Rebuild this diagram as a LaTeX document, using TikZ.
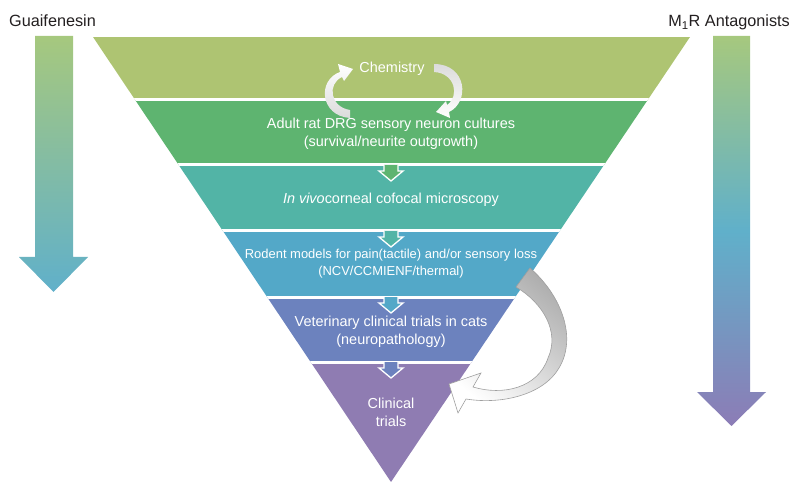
\documentclass[tikz,border=0pt]{standalone}
\usepackage{fontspec}
\setmainfont{Liberation Sans}
\definecolor{bandA}{HTML}{AEC472}
\definecolor{bandB}{HTML}{5EB470}
\definecolor{bandC}{HTML}{52B4A6}
\definecolor{bandD}{HTML}{53A8C8}
\definecolor{bandE}{HTML}{6C82BE}
\definecolor{bandF}{HTML}{8F7CB2}
\definecolor{arrowTop}{HTML}{A6C87E}
\definecolor{arrowMid}{HTML}{60B0CA}
\definecolor{arrowEnd}{HTML}{8C7CB6}
\definecolor{labelInk}{HTML}{231F20}
% small white-edged arrow linking two bands (fill colour, boundary y, name)
\newcommand{\bandlink}[3]{%
  \filldraw[fill=#1, draw=white, line width=1.3bp, line join=miter]
    (384,#2) -- (384,#2+6) -- (379,#2+6) -- (391,#2+16) -- (403,#2+6)
    -- (398,#2+6) -- (398,#2) node[coordinate] (#3) {};}
\begin{document}
\begin{tikzpicture}[x=1bp, y=-1bp,
  bandtext/.style={text=white, align=center, inner sep=0pt,
    font=\fontsize{14.5}{18}\selectfont},
  smalltext/.style={text=white, align=center, inner sep=0pt,
    font=\fontsize{13}{17}\selectfont},
  sidelabel/.style={text=labelInk, inner sep=0pt,
    font=\fontsize{16.3}{19}\selectfont},
  bigcurve/.style={draw=gray!75, line width=0.6bp, shading=axis,
    top color=gray!65, bottom color=white, shading angle=-40}]
\useasboundingbox (0,0) rectangle (792,482);

% side arrows
\shade[top color=arrowTop, bottom color=arrowMid]
  (35,36) -- (73,36) -- (73,257) -- (88,257) -- (53.5,292) -- (19,257)
  -- (35,257) -- cycle;
\shade[top color=arrowTop, bottom color=arrowEnd, middle color=arrowMid]
  (713,36) -- (750,36) -- (750,392) -- (766,392) -- (731.5,426)
  -- (697,392) -- (713,392) -- cycle;
\node[sidelabel, anchor=base west] (guai) at (9,27) {Guaifenesin};
\node[sidelabel, anchor=base east] (m1r) at (790,27)
  {M\textsubscript{1}R Antagonists};

% funnel bands
\begin{scope}
  \clip (93,37) -- (690,37) -- (391,482) -- cycle;
  \fill[bandA] (0,37) rectangle (792,100);
  \fill[bandB] (0,100) rectangle (792,165);
  \fill[bandC] (0,165) rectangle (792,231);
  \fill[bandD] (0,231) rectangle (792,297);
  \fill[bandE] (0,297) rectangle (792,362);
  \fill[bandF] (0,362) rectangle (792,482);
  \foreach \yy in {100,165,231,297,362}
    \draw[white, line width=3bp] (0,\yy) -- (792,\yy);
\end{scope}

% links between bands
\bandlink{bandB}{165}{l1}
\bandlink{bandC}{231}{l2}
\bandlink{bandD}{297}{l3}
\bandlink{bandE}{362}{l4}

% band texts
\node[bandtext] (chem) at (392,69) {Chemistry};
\node[bandtext] (drg) at (391,134)
  {Adult rat DRG sensory neuron cultures\\(survival/neurite outgrowth)};
\node[bandtext] (ccm) at (391,200) {\textit{In vivo}corneal cofocal microscopy};
\node[smalltext] (rodent) at (391,263.5)
  {Rodent models for pain(tactile) and/or sensory loss\\(NCV/CCMIENF/thermal)};
\node[bandtext] (vet) at (391,331.5)
  {Veterinary clinical trials in cats\\(neuropathology)};
\node[bandtext] (clin) at (391,412.5) {Clinical\\trials};

% chemistry cycle arrows
\shade[top color=white, bottom color=gray!28]
  (350,118) .. controls (320,116) and (317,80) .. (340,72) -- (338,64)
  -- (353,69) -- (344,81) -- (342,77)
  .. controls (327,84) and (330,107) .. (350,110) -- cycle;
\shade[top color=gray!28, bottom color=white]
  (434,64) .. controls (467,64) and (470,102) .. (449,112) -- (450,118)
  -- (436,112) -- (446,101) -- (447,105)
  .. controls (460,96) and (455,73) .. (434,72) -- cycle;

% feedback arrow from rodent models to clinical trials
\path[bigcurve]
  (530,268) .. controls (562,296) and (577,338) .. (559,368)
  .. controls (544,394) and (503,405) .. (466,399) -- (458,413)
  -- (449,384) -- (481,373) -- (473,387)
  .. controls (503,396) and (538,388) .. (548,358)
  .. controls (560,332) and (543,303) .. (516,287) -- cycle;
\end{tikzpicture}
\end{document}
